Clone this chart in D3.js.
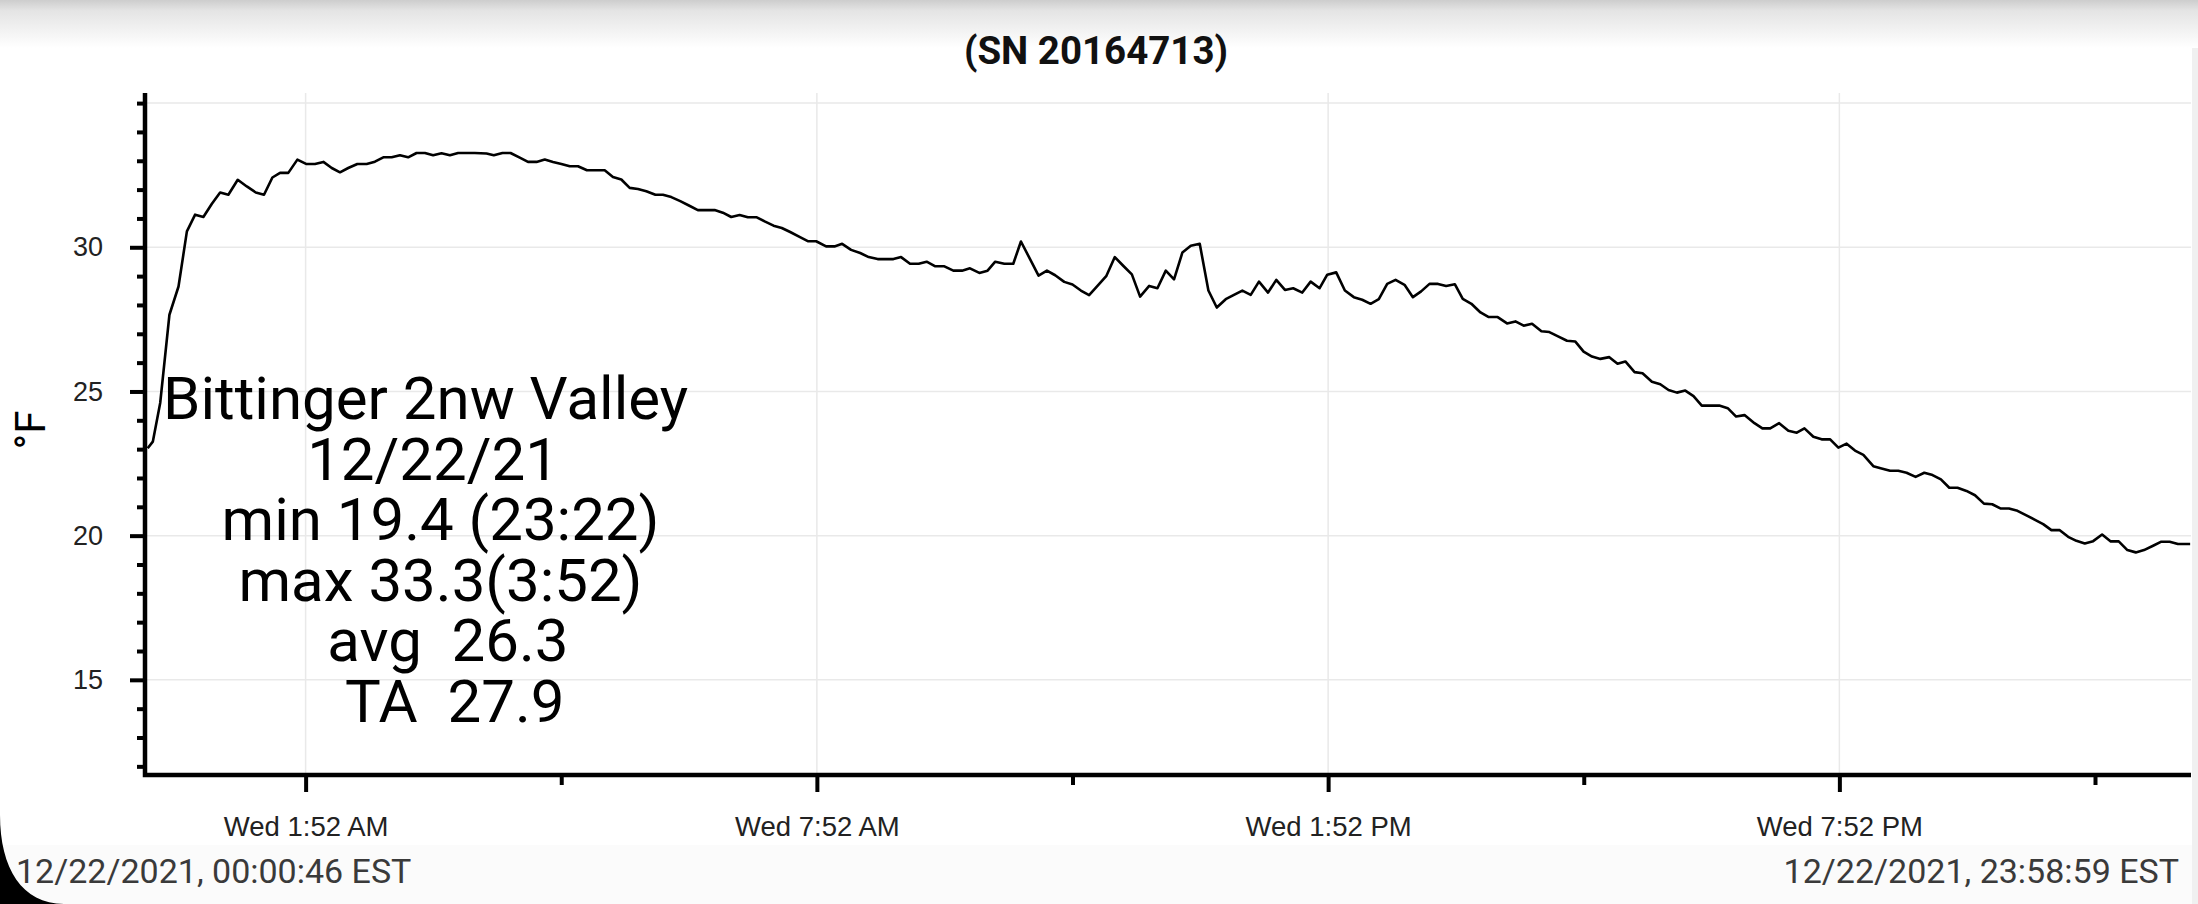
<!DOCTYPE html>
<html>
<head>
<meta charset="utf-8">
<script src="https://cdn.jsdelivr.net/npm/d3@7"></script>
<style>
  body { margin: 0; background: #fff; overflow: hidden; }
  svg { display: block; font-family: Roboto, "Noto Sans", sans-serif; }
</style>
</head>
<body>
<div id="chart"></div>
<script>
// minutes after midnight 12/22/21
var minutes = [0.8, 4.4, 9.6, 16.1, 22.5, 28.4, 34.2, 40, 46, 51.8, 57.6, 64.2, 70.6, 76.9, 82.7, 88.6, 94, 99.8,
  106.2, 112.3, 118.6, 124.5, 130.4, 136.2, 142, 148.4, 155, 160.8, 166.7, 172.6, 178.4, 184.2, 190.1, 196,
  201.8, 207.7, 213.6, 219.4, 225.3, 231.1, 239.4, 244.5, 250.6, 256.3, 262.8, 268.6, 274.6, 280.4, 286.2,
  292.1, 298, 303.8, 310.1, 316.3, 322.6, 328.4, 334.3, 340.2, 346, 351.9, 358.3, 363.6, 369.5, 375.8, 381.9,
  388.2, 394.1, 400, 405.8, 411.7, 417.6, 423.4, 429.7, 435.6, 441.5, 447.3, 453.2, 459.8, 465.6, 471.5, 478.5,
  484.4, 489.8, 496.1, 502.5, 508.5, 514.8, 520.8, 525.9, 531.3, 537.6, 543.7, 549.3, 555.4, 561.8, 568.1,
  574.2, 579.8, 586.4, 592.2, 597.6, 604, 610.3, 615.7, 628.1, 634, 639.8, 646.2, 652, 657.9, 663.7, 669.6,
  675.9, 681.8, 687.7, 693.8, 699.6, 706, 711.8, 717.7, 723.5, 729.4, 735.3, 741.6, 747.7, 753.6, 759.9,
  765.7, 771.6, 777.5, 783.3, 789.7, 795.5, 801.6, 807.4, 813.8, 819.7, 826, 831.4, 837.7, 843.8, 850.1, 856,
  861.9, 867.7, 873.6, 879.5, 885.8, 891.7, 897.5, 903.4, 909.4, 915.1, 921.2, 926.8, 932.9, 939.3, 945.1,
  951.4, 958, 963.9, 969.7, 975.6, 982.2, 987.8, 993.9, 1000.2, 1006.1, 1011.9, 1017.8, 1023.7, 1030, 1035.8,
  1041.3, 1047.8, 1053.4, 1060, 1065.9, 1071.7, 1077.6, 1083.5, 1089.3, 1095.1, 1101.1, 1107.4, 1113.4,
  1119.3, 1125.2, 1132.2, 1137.8, 1143.3, 1149.6, 1156.1, 1162, 1167.4, 1173.7, 1179.5, 1185.5, 1191.3,
  1197.1, 1203, 1208.9, 1215.9, 1221.7, 1227.7, 1233.5, 1239.3, 1245.7, 1251.8, 1257.6, 1263.5, 1269.4,
  1275.2, 1281.5, 1287.5, 1293.8, 1299.6, 1305.7, 1311.4, 1317.4, 1323.7, 1330.1, 1335.5, 1341.3, 1347.2,
  1353.1, 1358.9, 1364.8, 1370.7, 1377, 1383.1, 1388.7, 1394.8, 1400.7, 1406.5, 1412.9, 1418.7, 1424.6,
  1430.4, 1439];
var temps = [23.03, 23.26, 24.6, 27.66, 28.64, 30.55, 31.13, 31.05, 31.51, 31.9, 31.82, 32.34, 32.11, 31.9, 31.82,
  32.42, 32.58, 32.58, 33.04, 32.89, 32.89, 32.96, 32.75, 32.6, 32.75, 32.89, 32.89, 32.97, 33.12, 33.12,
  33.19, 33.12, 33.27, 33.27, 33.19, 33.26, 33.19, 33.27, 33.27, 33.27, 33.25, 33.19, 33.27, 33.27, 33.11,
  32.96, 32.96, 33.04, 32.96, 32.89, 32.81, 32.81, 32.67, 32.67, 32.67, 32.44, 32.35, 32.06, 32.02, 31.94,
  31.82, 31.82, 31.74, 31.6, 31.45, 31.29, 31.29, 31.29, 31.2, 31.05, 31.12, 31.04, 31.04, 30.89, 30.75,
  30.67, 30.53, 30.36, 30.21, 30.21, 30.03, 30.03, 30.12, 29.91, 29.8, 29.66, 29.59, 29.59, 29.59, 29.66,
  29.43, 29.43, 29.5, 29.34, 29.34, 29.19, 29.19, 29.27, 29.11, 29.19, 29.5, 29.43, 29.43, 30.2, 29.02,
  29.19, 29.03, 28.8, 28.71, 28.5, 28.34, 28.66, 29.01, 29.66, 29.36, 29.06, 28.29, 28.66, 28.58, 29.19,
  28.89, 29.82, 30.05, 30.12, 28.5, 27.91, 28.2, 28.35, 28.5, 28.35, 28.81, 28.43, 28.87, 28.52, 28.58,
  28.43, 28.81, 28.58, 29.05, 29.13, 28.5, 28.27, 28.18, 28.04, 28.2, 28.73, 28.87, 28.7, 28.27, 28.47,
  28.73, 28.73, 28.66, 28.72, 28.21, 28.04, 27.74, 27.58, 27.58, 27.36, 27.43, 27.28, 27.35, 27.09, 27.06,
  26.91, 26.76, 26.73, 26.38, 26.21, 26.13, 26.19, 25.96, 26.04, 25.67, 25.63, 25.34, 25.25, 25.05, 24.96,
  25.03, 24.84, 24.51, 24.51, 24.51, 24.42, 24.13, 24.18, 23.9, 23.72, 23.72, 23.9, 23.64, 23.57, 23.72,
  23.43, 23.34, 23.34, 23.05, 23.19, 22.95, 22.8, 22.41, 22.33, 22.25, 22.25, 22.18, 22.04, 22.18, 22.1,
  21.95, 21.66, 21.66, 21.55, 21.4, 21.11, 21.09, 20.94, 20.94, 20.86, 20.7, 20.54, 20.4, 20.19, 20.19,
  19.96, 19.82, 19.73, 19.81, 20.04, 19.8, 19.8, 19.5, 19.42, 19.5, 19.65, 19.79, 19.79, 19.71, 19.71];

var majorTimes = ["01:52", "07:52", "13:52", "19:52"];
var minorTimes = ["04:52", "10:52", "16:52", "22:52"];
var majorTemps = [15, 20, 25, 30];
var gridTemps = [15, 20, 25, 30, 35];
var minorTemps = [12, 13, 14, 16, 17, 18, 19, 21, 22, 23, 24, 26, 27, 28, 29, 31, 32, 33, 34, 35];

var title = "(SN 20164713)";
var unitLabel = "°F";
var noteLines = ["Bittinger 2nw Valley  ", "12/22/21 ", "min 19.4 (23:22)", "max 33.3(3:52)", " avg  26.3", "  TA  27.9"];
var startStamp = "12/22/2021, 00:00:46 EST";
var endStamp = "12/22/2021, 23:58:59 EST";

var W = 2198, H = 904;
var plotLeft = 145, plotRight = 2191, plotTop = 93, plotBottom = 775;
var day = Date.UTC(2021, 11, 22);
function toDate(m) { return new Date(day + m * 60000); }
var parseTime = d3.utcParse("%Y-%m-%d %H:%M");
function clock(s) { return parseTime("2021-12-22 " + s); }

var svg = d3.select('#chart').append('svg').attr('width', W).attr('height', H);

// screenshot chrome: top shadow, bottom band, right strip
var grad = svg.append('defs').append('linearGradient')
  .attr('id', 'topShade').attr('x1', 0).attr('y1', 0).attr('x2', 0).attr('y2', 1);
grad.append('stop').attr('offset', 0).attr('stop-color', '#cdcdcd');
grad.append('stop').attr('offset', 0.22).attr('stop-color', '#e4e4e4');
grad.append('stop').attr('offset', 1).attr('stop-color', '#ffffff');
svg.append('rect').attr('width', W).attr('height', H).attr('fill', '#fff');
svg.append('rect').attr('width', W).attr('height', 48).attr('fill', 'url(#topShade)');
svg.append('rect').attr('y', 845).attr('width', W).attr('height', H - 845).attr('fill', '#fbfbfb');
svg.append('rect').attr('x', 2192).attr('y', 48).attr('width', 6).attr('height', H - 48).attr('fill', '#f0f0f0');

var x = d3.scaleUtc()
  .domain([toDate(-1.1), toDate(1439.6)])
  .range([plotLeft, plotRight]);
var y = d3.scaleLinear()
  .domain([11.7, 35.35])
  .range([plotBottom, plotTop]);

// grid
svg.append('g').selectAll('line').data(gridTemps).enter().append('line')
  .attr('x1', plotLeft).attr('x2', plotRight)
  .attr('y1', function(d) { return y(d); }).attr('y2', function(d) { return y(d); })
  .attr('stroke', '#e9e9e9').attr('stroke-width', 1.5);
svg.append('g').selectAll('line').data(majorTimes).enter().append('line')
  .attr('x1', function(d) { return x(clock(d)); }).attr('x2', function(d) { return x(clock(d)); })
  .attr('y1', plotTop).attr('y2', plotBottom)
  .attr('stroke', '#e9e9e9').attr('stroke-width', 1.5);

var points = minutes.map(function(m, i) { return {t: toDate(m), v: temps[i]}; });
var line = d3.line()
  .x(function(d) { return x(d.t); })
  .y(function(d) { return y(d.v); });
svg.append('path')
  .datum(points)
  .attr('d', line)
  .attr('fill', 'none')
  .attr('stroke', '#000')
  .attr('stroke-width', 2.6)
  .attr('stroke-linejoin', 'round');

// axes
function styleAxis(g, fontSize) {
  g.selectAll('.tick line').attr('stroke', '#000').attr('stroke-width', 4);
  g.selectAll('.tick text').attr('fill', '#222').style('font-size', fontSize + 'px');
  g.select('.domain').remove();
}
var yMinor = svg.append('g').attr('transform', 'translate(' + plotLeft + ',0)')
  .call(d3.axisLeft(y).tickValues(minorTemps).tickSize(8).tickFormat(''));
styleAxis(yMinor, 27);
var yMajor = svg.append('g').attr('transform', 'translate(' + plotLeft + ',0)')
  .call(d3.axisLeft(y).tickValues(majorTemps).tickSize(15).tickPadding(27));
styleAxis(yMajor, 27);

var xMinor = svg.append('g').attr('transform', 'translate(0,' + plotBottom + ')')
  .call(d3.axisBottom(x).tickValues(minorTimes.map(clock)).tickSize(10).tickFormat(''));
styleAxis(xMinor, 27);
var xMajor = svg.append('g').attr('transform', 'translate(0,' + plotBottom + ')')
  .call(d3.axisBottom(x).tickValues(majorTimes.map(clock)).tickSize(17).tickPadding(24)
    .tickFormat(d3.utcFormat('%a %-I:%M %p')));
styleAxis(xMajor, 27.5);

svg.append('path')
  .attr('d', 'M' + plotLeft + ',' + plotTop + 'V' + plotBottom + 'H' + plotRight)
  .attr('fill', 'none')
  .attr('stroke', '#000')
  .attr('stroke-width', 4.5);

// texts
svg.append('text')
  .attr('x', 1096).attr('y', 64)
  .attr('text-anchor', 'middle')
  .style('font-size', '38.5px').style('font-weight', 'bold')
  .attr('fill', '#111')
  .text(title);

svg.append('text')
  .attr('transform', 'translate(45,430) rotate(-90)')
  .attr('text-anchor', 'middle')
  .style('font-size', '42px')
  .attr('fill', '#000')
  .text(unitLabel);

svg.append('g').selectAll('text').data(noteLines).enter().append('text')
  .attr('x', 440.5)
  .attr('y', function(d, i) { return 419 + i * 60.6; })
  .attr('text-anchor', 'middle')
  .attr('xml:space', 'preserve')
  .style('white-space', 'pre')
  .style('font-size', '60px')
  .attr('fill', '#000')
  .text(function(d) { return d; });

svg.append('text')
  .attr('x', 16).attr('y', 883)
  .style('font-size', '34px')
  .attr('fill', '#3a3a3a')
  .text(startStamp);
svg.append('text')
  .attr('x', 2179).attr('y', 883)
  .attr('text-anchor', 'end')
  .style('font-size', '34px')
  .attr('fill', '#3a3a3a')
  .text(endStamp);

// rounded screen corner
svg.append('path')
  .attr('d', 'M0,815 C0,868 22,904 64,904 L0,904 Z')
  .attr('fill', '#000');
</script>
</body>
</html>
